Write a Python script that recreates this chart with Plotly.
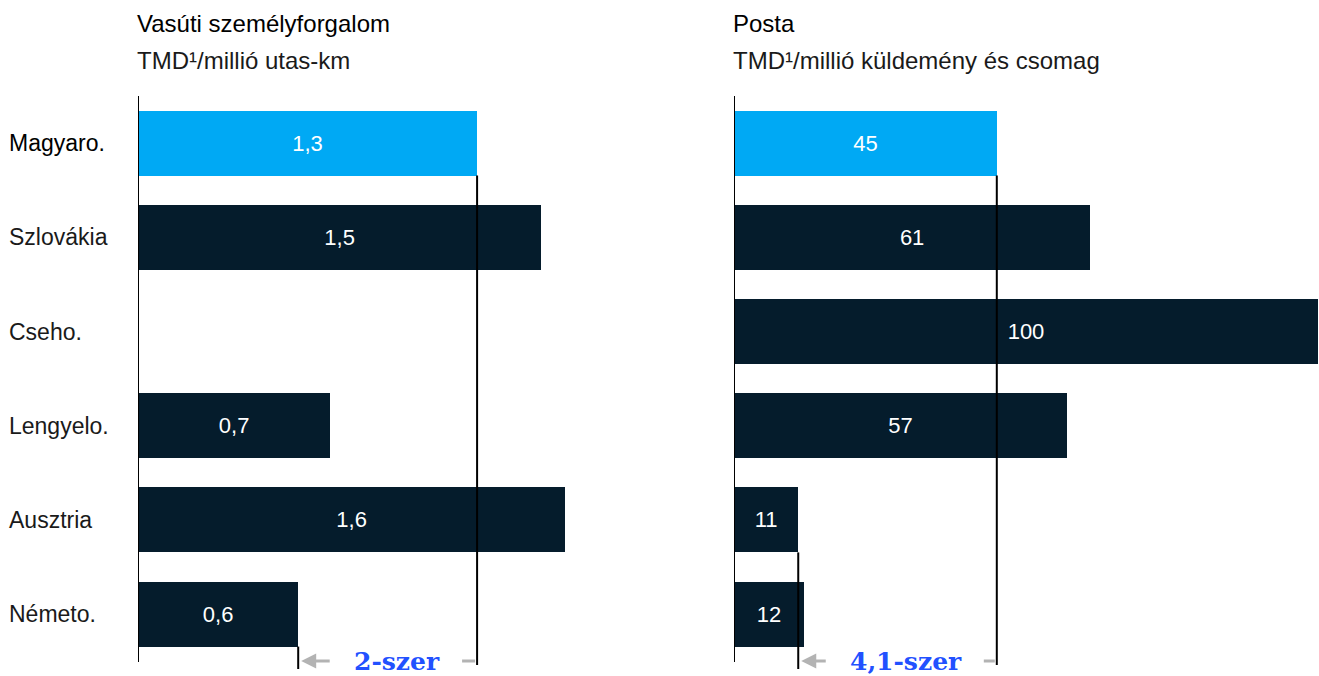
import plotly.graph_objects as go

# ---------------- data ----------------
countries = ["Magyaro.", "Szlovákia", "Cseho.", "Lengyelo.", "Ausztria", "Németo."]
rail_values = [1.27, 1.51, None, 0.72, 1.60, 0.60]
rail_labels = ["1,3", "1,5", "", "0,7", "1,6", "0,6"]
post_values = [45, 61, 100, 57, 11, 12]
post_labels = ["45", "61", "100", "57", "11", "12"]
rail_title = "Vasúti személyforgalom"
rail_sub = "TMD¹/millió utas-km"
post_title = "Posta"
post_sub = "TMD¹/millió küldemény és csomag"
rail_ratio_text = "2-szer"
post_ratio_text = "4,1-szer"

# ---------------- styling ----------------
W, H = 1319, 676
HIGHLIGHT = "#00A9F4"
NAVY = "#051C2C"
BLUE_TXT = "#2251FF"
GREY = "#B3B3B3"
SANS = "Liberation Sans, Arial, sans-serif"
SERIF = "DejaVu Serif, serif"


def fx(px):  # screen x -> paper fraction
    return px / W


L_X0, L_X1 = 138, 660          # left panel extent
R_X0, R_X1 = 734, 1319         # right panel extent
L_SCALE = 267.0                # px per unit
R_SCALE = 5.84
TOP, BOT = 96, 670             # plot area vertical extent
ROW = 94.2
y_top = -0.5
y_bot = y_top + (BOT - TOP) / ROW
BAR_W = 0.69

l_range = [0, (L_X1 - L_X0) / L_SCALE]
r_range = [0, (R_X1 - R_X0) / R_SCALE]

ypos = list(range(len(countries)))
colors = [HIGHLIGHT] + [NAVY] * (len(countries) - 1)

fig = go.Figure()
fig.add_trace(go.Bar(
    x=rail_values, y=ypos, orientation="h", marker=dict(color=colors, line=dict(width=0)),
    width=BAR_W, text=rail_labels, textposition="inside", insidetextanchor="middle",
    textangle=0, constraintext="none",
    textfont=dict(color="white", size=22, family=SANS),
    xaxis="x", yaxis="y", hoverinfo="skip"))
fig.add_trace(go.Bar(
    x=post_values, y=ypos, orientation="h", marker=dict(color=colors, line=dict(width=0)),
    width=BAR_W, text=post_labels, textposition="inside", insidetextanchor="middle",
    textangle=0, constraintext="none",
    textfont=dict(color="white", size=22, family=SANS),
    xaxis="x2", yaxis="y2", hoverinfo="skip"))

ax_common = dict(showgrid=False, zeroline=False, showticklabels=False, ticks="",
                 showline=False, fixedrange=True)
fig.update_layout(
    width=W, height=H,
    margin=dict(l=0, r=0, t=TOP, b=H - BOT, pad=0),
    paper_bgcolor="white", plot_bgcolor="white",
    showlegend=False,
    xaxis=dict(domain=[fx(L_X0), fx(L_X1)], range=l_range, **ax_common),
    xaxis2=dict(domain=[fx(R_X0), 1.0], range=r_range, anchor="y2", **ax_common),
    yaxis=dict(range=[y_bot, y_top], **ax_common),
    yaxis2=dict(range=[y_bot, y_top], anchor="x2", **ax_common),
    bargap=0,
)

shapes = []
annotations = []
PLOT_H = BOT - TOP


def py(screen_y):  # screen y -> paper fraction
    return (BOT - screen_y) / PLOT_H


def panel(xref, yref, vals, scale, title, sub, ratio_text, x_screen0, tail_off, dash_off):
    valid = [(v, i) for i, v in enumerate(vals) if v is not None]
    ref_v = vals[0]
    min_v, min_i = min(valid)
    half = BAR_W / 2
    y_axis_end = y_top + (662 - TOP) / ROW
    y_long_end = y_top + (665 - TOP) / ROW
    y_short_end = y_top + (669 - TOP) / ROW
    y_arrow = y_top + (661 - TOP) / ROW
    # axis line
    shapes.append(dict(type="line", xref=xref, yref=yref, x0=0, x1=0, y0=y_top, y1=y_axis_end,
                       line=dict(color="black", width=2), layer="above"))
    # reference line (Hungary)
    shapes.append(dict(type="line", xref=xref, yref=yref, x0=ref_v, x1=ref_v,
                       y0=0 + half, y1=y_long_end, line=dict(color="black", width=2), layer="above"))
    # minimum line
    shapes.append(dict(type="line", xref=xref, yref=yref, x0=min_v, x1=min_v,
                       y0=min_i + half, y1=y_short_end, line=dict(color="black", width=2), layer="above"))
    # dash next to reference line
    shapes.append(dict(type="line", xref=xref, yref=yref,
                       x0=ref_v - dash_off / scale, x1=ref_v - 2 / scale,
                       y0=y_arrow, y1=y_arrow, line=dict(color=GREY, width=3), layer="above"))
    tip = min_v + 3 / scale
    tail = min_v + tail_off / scale
    annotations.append(dict(xref=xref, yref=yref, x=tip, y=y_arrow, ax=tail, ay=y_arrow,
                            axref=xref, ayref=yref, showarrow=True, arrowhead=2, arrowsize=1,
                            arrowwidth=3, arrowcolor=GREY, text=""))
    mid = (tail + ref_v - dash_off / scale) / 2
    annotations.append(dict(xref=xref, yref=yref, x=mid, y=y_arrow, text=f"<b>{ratio_text}</b>",
                            showarrow=False, xanchor="center", yanchor="middle",
                            font=dict(family=SERIF, size=25, color=BLUE_TXT)))
    annotations.append(dict(xref="paper", yref="paper", x=fx(x_screen0) - 0.002, y=py(24),
                            text=title, showarrow=False, xanchor="left", yanchor="middle",
                            font=dict(family=SANS, size=24, color="#000000")))
    annotations.append(dict(xref="paper", yref="paper", x=fx(x_screen0) - 0.002, y=py(60),
                            text=sub, showarrow=False, xanchor="left", yanchor="middle",
                            font=dict(family=SANS, size=24, color="#1a1a1a")))


panel("x", "y", rail_values, L_SCALE, rail_title, rail_sub, rail_ratio_text, L_X0, 33, 15)
panel("x2", "y2", post_values, R_SCALE, post_title, post_sub, post_ratio_text, R_X0, 29, 13)

for i, c in enumerate(countries):
    annotations.append(dict(xref="paper", yref="y", x=fx(10) - 0.002, y=i, text=c, showarrow=False,
                            xanchor="left", yanchor="middle",
                            font=dict(family=SANS, size=23, color="#000000" if i == 0 else "#1a1a1a")))

fig.update_layout(shapes=shapes, annotations=annotations)
fig.write_html(
    "out.html",
    config={"displayModeBar": False, "staticPlot": True},
    post_script=("document.documentElement.style.margin='0';"
                 "document.documentElement.style.overflow='hidden';"
                 "document.body.style.margin='0';"
                 "document.body.style.padding='0';"
                 "document.body.style.overflow='hidden';"),
)
